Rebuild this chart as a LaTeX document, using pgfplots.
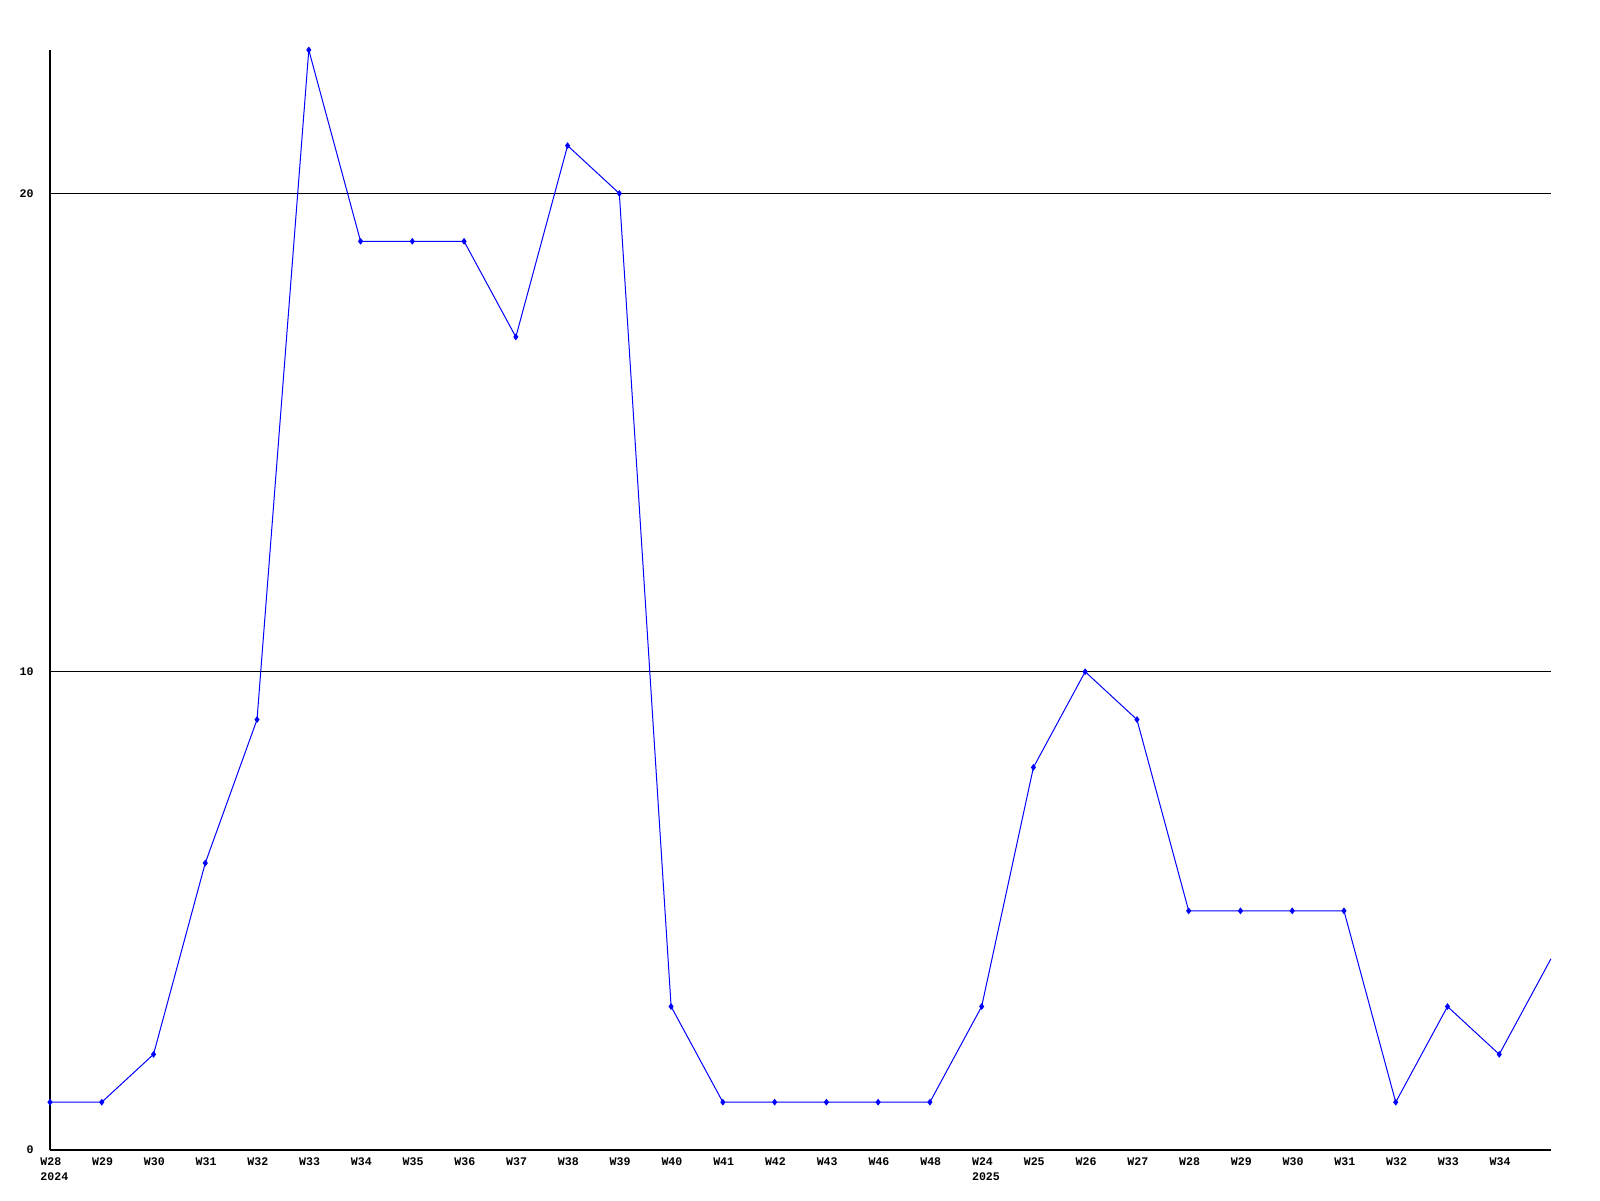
\documentclass[border=0pt]{standalone}
\usepackage{fontspec}
\setmainfont{Liberation Mono}
\usepackage{pgfplots}
\pgfplotsset{compat=1.18}
\begin{document}
\begin{tikzpicture}
\path[use as bounding box] (0,0) rectangle (800pt,600pt);
\begin{axis}[
  at={(25pt,25pt)}, anchor=south west,
  scale only axis, width=750.5pt, height=550pt,
  xmin=0, xmax=29, ymin=0, ymax=23,
  axis x line*=bottom, axis y line*=left,
  axis line style={black, line width=0.6pt, -},
  major tick length=0pt,
  ytick={0,10,20},
  ymajorgrids, grid style={black, line width=0.5pt},
  xtick={0,...,28},
  xticklabels={{W28\\2024},W29,W30,W31,W32,W33,W34,W35,W36,W37,W38,W39,W40,W41,W42,W43,W46,W48,{W24\\2025},W25,W26,W27,W28,W29,W30,W31,W32,W33,W34},
  /pgf/number format/assume math mode=true,
  xticklabel style={font=\bfseries\fontsize{5.8}{7.5}\selectfont, anchor=north west, align=left, inner sep=0pt, xshift=-5pt, yshift=-3.5pt},
  yticklabel style={font=\bfseries\fontsize{5.8}{7.5}\selectfont, anchor=east, inner sep=0pt, xshift=-8pt},
  clip=true,
]
\addplot[blue, line width=0.5pt, mark=diamond*, mark size=1.3pt, mark options={blue}, mark indices={1,...,29}] coordinates {
(0,1) (1,1) (2,2) (3,6) (4,9) (5,23) (6,19) (7,19) (8,19) (9,17) (10,21) (11,20)
(12,3) (13,1) (14,1) (15,1) (16,1) (17,1) (18,3) (19,8) (20,10) (21,9)
(22,5) (23,5) (24,5) (25,5) (26,1) (27,3) (28,2) (29,4)
};
\end{axis}
\end{tikzpicture}
\end{document}
